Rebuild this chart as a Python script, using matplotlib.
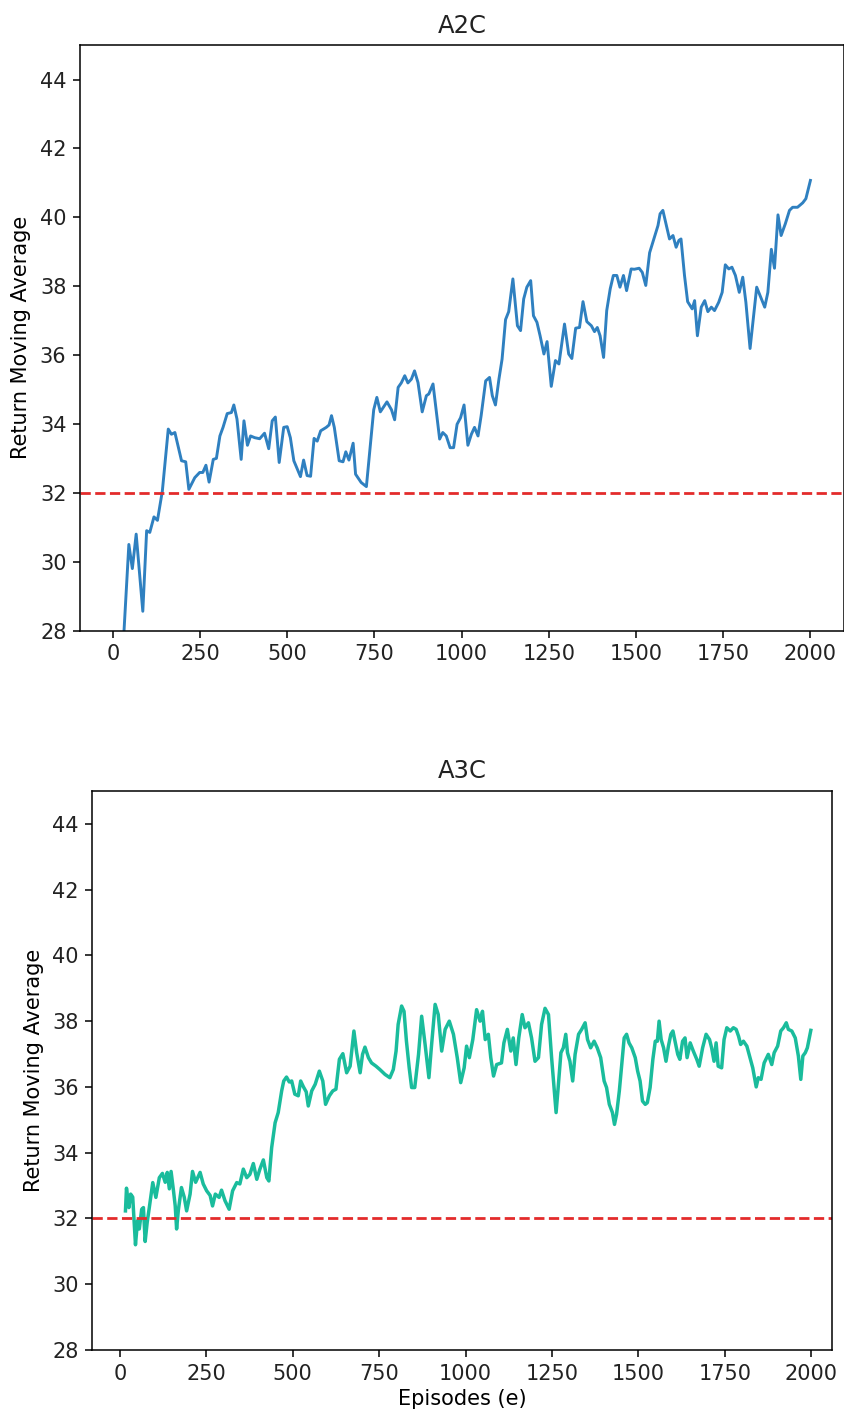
import numpy as np
import matplotlib
matplotlib.use("Agg")
import matplotlib.pyplot as plt

# moving average of returns
a2c_episodes = [20, 46, 56, 67, 86, 97, 106, 118, 128, 142, 159, 168, 178, 197, 209, 218, 235, 249, 258, 267,
                276, 288, 297, 307, 316, 328, 340, 347, 356, 368, 376, 386, 395, 407, 421, 435, 447, 457, 466, 477,
                490, 500, 509, 519, 538, 547, 557, 567, 577, 586, 596, 612, 620, 627, 635, 649, 660, 668, 677, 689,
                696, 712, 727, 738, 748, 757, 767, 786, 799, 808, 818, 827, 837, 846, 856, 865, 875, 887, 899, 906,
                918, 937, 946, 956, 967, 977, 987, 997, 1007, 1018, 1028, 1037, 1047, 1056, 1069, 1080, 1088, 1097,
                1107, 1116, 1126, 1135, 1147, 1160, 1169, 1178, 1187, 1198, 1206, 1216, 1225, 1236, 1245, 1257,
                1269, 1279, 1295, 1307, 1316, 1327, 1338, 1348, 1359, 1372, 1381, 1389, 1397, 1407, 1416, 1426,
                1435, 1445, 1454, 1464, 1473, 1486, 1495, 1509, 1518, 1528, 1539, 1550, 1563, 1569, 1577, 1587,
                1596, 1606, 1615, 1623, 1629, 1639, 1648, 1661, 1668, 1676, 1687, 1697, 1706, 1716, 1725, 1737,
                1747, 1756, 1766, 1775, 1785, 1796, 1806, 1815, 1827, 1836, 1846, 1856, 1869, 1878, 1888, 1897,
                1907, 1916, 1928, 1940, 1949, 1963, 1978, 1987, 2000]
a2c_returns = [25.8, 30.5, 29.8, 30.8, 28.56, 30.9, 30.85, 31.3, 31.2, 32.05, 33.85, 33.7, 33.75, 32.93, 32.9, 32.1,
               32.44, 32.59, 32.59, 32.8, 32.31, 32.97, 33.0, 33.65, 33.9, 34.3, 34.33, 34.55, 34.14, 32.97, 34.09,
               33.38, 33.65, 33.6, 33.57, 33.73, 33.28, 34.09, 34.2, 32.88, 33.9, 33.92, 33.6, 32.93, 32.47, 32.95,
               32.5, 32.48, 33.58, 33.5, 33.8, 33.9, 33.97, 34.24, 33.9, 32.93, 32.9, 33.19, 32.95, 33.44, 32.54,
               32.3, 32.18, 33.36, 34.41, 34.77, 34.35, 34.64, 34.41, 34.12, 35.06, 35.19, 35.4, 35.19, 35.3, 35.54,
               35.2, 34.35, 34.82, 34.87, 35.16, 33.56, 33.75, 33.65, 33.31, 33.31, 33.99, 34.18, 34.55, 33.38, 33.7,
               33.9, 33.65, 34.24, 35.25, 35.35, 34.82, 34.55, 35.3, 35.88, 37.03, 37.26, 38.21, 36.85, 36.71, 37.63,
               37.97, 38.16, 37.14, 36.95, 36.56, 36.03, 36.39, 35.09, 35.84, 35.74, 36.9, 36.03, 35.9, 36.78, 36.8,
               37.55, 36.97, 36.85, 36.68, 36.8, 36.56, 35.93, 37.29, 37.92, 38.31, 38.31, 37.97, 38.31, 37.87, 38.5,
               38.49, 38.52, 38.4, 38.02, 38.97, 39.33, 39.76, 40.1, 40.2, 39.76, 39.37, 39.47, 39.13, 39.33, 39.37,
               38.31, 37.55, 37.34, 37.58, 36.56, 37.39, 37.58, 37.26, 37.39, 37.29, 37.53, 37.82, 38.62, 38.5, 38.55,
               38.31, 37.82, 38.26, 37.53, 36.19, 37.04, 37.97, 37.72, 37.39, 37.82, 39.07, 38.52, 40.07, 39.47,
               39.81, 40.2, 40.29, 40.29, 40.42, 40.54, 41.07]

a3c_episodes = [16, 19, 26, 31, 37, 45, 51, 56, 63, 68, 73, 79, 85, 95, 104, 114, 123, 131, 137, 143, 148, 155, 160,
                164, 169, 178, 186, 193, 203, 210, 219, 232, 241, 251, 261, 268, 276, 287, 294, 304, 316, 326, 338,
                347, 357, 367, 376, 386, 396, 405, 415, 425, 431, 439, 449, 458, 468, 474, 482, 490, 497, 506, 516,
                523, 531, 539, 545, 555, 565, 577, 587, 595, 606, 616, 625, 635, 645, 656, 666, 677, 685, 695, 702,
                709, 719, 728, 741, 752, 767, 781, 791, 799, 805, 815, 822, 829, 837, 844, 853, 864, 873, 883, 894,
                901, 912, 921, 931, 941, 953, 965, 976, 986, 996, 1003, 1011, 1021, 1032, 1042, 1049, 1057, 1066,
                1073, 1081, 1090, 1104, 1111, 1121, 1131, 1138, 1146, 1154, 1164, 1172, 1182, 1191, 1201, 1211, 1220,
                1230, 1240, 1249, 1256, 1262, 1268, 1276, 1283, 1290, 1295, 1302, 1310, 1317, 1327, 1336, 1346, 1353,
                1362, 1372, 1381, 1391, 1401, 1408, 1416, 1425, 1431, 1437, 1445, 1452, 1459, 1466, 1473, 1481, 1491,
                1498, 1505, 1512, 1520, 1526, 1534, 1542, 1549, 1555, 1560, 1566, 1573, 1580, 1587, 1594, 1600, 1607,
                1614, 1620, 1628, 1635, 1641, 1650, 1659, 1669, 1676, 1686, 1696, 1706, 1712, 1719, 1725, 1731, 1741,
                1748, 1756, 1766, 1775, 1783, 1790, 1796, 1804, 1814, 1823, 1831, 1841, 1847, 1855, 1864, 1876, 1886,
                1893, 1903, 1912, 1920, 1928, 1934, 1944, 1954, 1963, 1970, 1976, 1983, 1989, 1999]
a3c_returns = [32.23, 32.92, 32.33, 32.74, 32.65, 31.2, 31.93, 31.68, 32.28, 32.33, 31.3, 31.89, 32.33, 33.09, 32.64,
               33.24, 33.37, 33.1, 33.4, 32.9, 33.43, 32.84, 32.38, 31.68, 32.25, 32.94, 32.65, 32.23, 32.74, 33.43,
               33.1, 33.4, 33.05, 32.84, 32.7, 32.38, 32.74, 32.64, 32.86, 32.54, 32.28, 32.84, 33.09, 33.05, 33.5,
               33.24, 33.34, 33.67, 33.19, 33.5, 33.78, 33.24, 33.14, 34.15, 34.91, 35.22, 35.88, 36.18, 36.3, 36.15,
               36.18, 35.78, 35.73, 36.18, 36.0, 35.85, 35.42, 35.88, 36.08, 36.48, 36.18, 35.47, 35.73, 35.88, 35.93,
               36.84, 37.01, 36.43, 36.63, 37.7, 37.04, 36.43, 36.99, 37.21, 36.89, 36.73, 36.63, 36.53, 36.38, 36.28,
               36.53, 37.09, 37.9, 38.46, 38.3, 37.39, 36.58, 35.98, 35.98, 36.99, 38.15, 37.29, 36.28, 37.19, 38.51,
               38.2, 37.09, 37.75, 38.0, 37.6, 36.89, 36.13, 36.58, 37.24, 36.89, 37.44, 38.35, 38.0, 38.3, 37.44,
               37.6, 36.89, 36.33, 36.68, 36.73, 37.34, 37.75, 37.09, 37.49, 36.68, 37.49, 38.2, 37.8, 37.95, 37.49,
               36.78, 36.89, 37.9, 38.39, 38.2, 36.89, 35.98, 35.22, 35.98, 37.04, 37.19, 37.6, 37.04, 36.78, 36.18,
               36.99, 37.6, 37.75, 37.95, 37.44, 37.19, 37.39, 37.19, 36.89, 36.18, 35.98, 35.47, 35.22, 34.86, 35.17,
               35.88, 36.68, 37.49, 37.6, 37.34, 37.19, 36.89, 36.48, 36.18, 35.57, 35.47, 35.52, 35.98, 36.84, 37.39,
               37.39, 38.0, 37.44, 37.19, 36.78, 37.24, 37.6, 37.7, 37.34, 36.99, 36.84, 37.39, 37.49, 36.89, 37.34,
               37.09, 36.84, 36.63, 37.19, 37.6, 37.44, 37.19, 36.78, 37.34, 36.63, 36.58, 37.44, 37.8, 37.7, 37.8,
               37.75, 37.54, 37.29, 37.39, 37.24, 36.89, 36.58, 36.0, 36.28, 36.23, 36.73, 36.99, 36.68, 37.04, 37.24,
               37.7, 37.8, 37.95, 37.75, 37.7, 37.49, 36.94, 36.23, 36.94, 37.04, 37.19, 37.72]

threshold = 32
y_ticks = [28, 30, 32, 34, 36, 38, 40, 42, 44]
x_ticks = [0, 250, 500, 750, 1000, 1250, 1500, 1750, 2000]

plt.rcParams['font.family'] = ['DejaVu Sans']
plt.rcParams['font.size'] = 15
plt.rcParams['axes.linewidth'] = 1.1
plt.rcParams['xtick.major.size'] = 4.8
plt.rcParams['ytick.major.size'] = 4.8
plt.rcParams['xtick.major.width'] = 1.1
plt.rcParams['ytick.major.width'] = 1.1
plt.rcParams['xtick.major.pad'] = 5
plt.rcParams['ytick.major.pad'] = 5
plt.rcParams['text.color'] = '#222222'
plt.rcParams['xtick.labelcolor'] = '#222222'
plt.rcParams['ytick.labelcolor'] = '#222222'

fig = plt.figure(figsize=(8.45, 14.17), dpi=100)

#%%----- A2C
ax1 = fig.add_axes([0.0947, 0.555, 0.904, 0.4132])
ax1.plot(a2c_episodes, a2c_returns, color='#2f80c0', lw=2.1)
ax1.axhline(threshold, color='#e32b2b', ls='--', lw=2.0)
ax1.set_xlim(-94, 2096)
ax1.set_ylim(28, 45)
ax1.set_xticks(x_ticks)
ax1.set_yticks(y_ticks)
ax1.set_title("A2C", fontsize=17.5, pad=9)
ax1.set_ylabel("Return Moving Average", labelpad=6)

#%%----- A3C
ax2 = fig.add_axes([0.1092, 0.0473, 0.8757, 0.3945])
ax2.plot(a3c_episodes, a3c_returns, color='#1abc9c', lw=2.5)
ax2.axhline(threshold, color='#e32b2b', ls='--', lw=2.0)
ax2.set_xlim(-80, 2061)
ax2.set_ylim(28, 45)
ax2.set_xticks(x_ticks)
ax2.set_yticks(y_ticks)
ax2.set_title("A3C", fontsize=17.5, pad=9)
ax2.set_ylabel("Return Moving Average", labelpad=6)
ax2.set_xlabel("Episodes (e)", labelpad=4)

fig.savefig("out.png", dpi=100)
